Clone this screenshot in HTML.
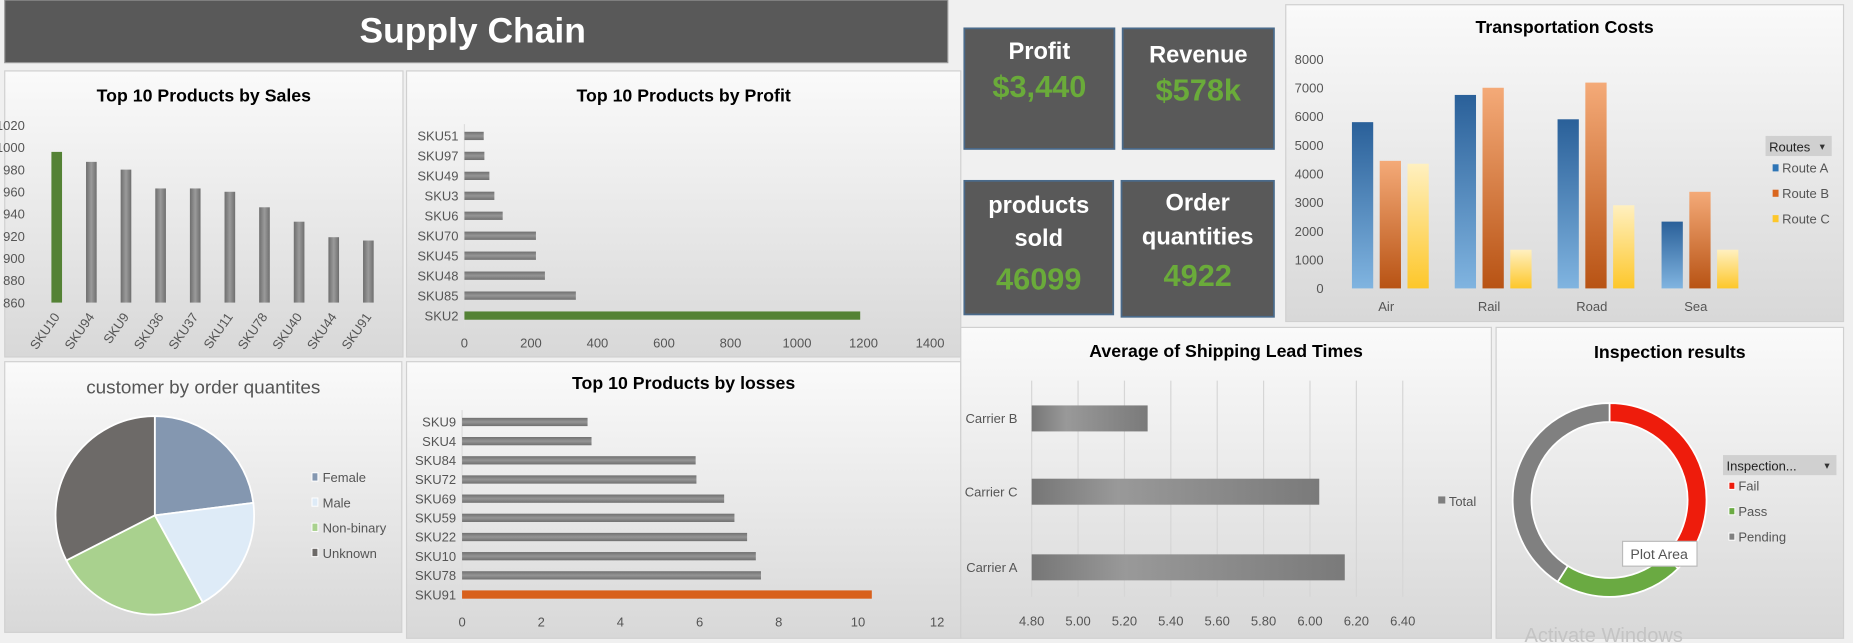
<!DOCTYPE html>
<html><head><meta charset="utf-8"><style>
html,body{margin:0;padding:0;background:#f0f0f0;}
svg{display:block;font-family:"Liberation Sans",sans-serif;}
</style></head><body>
<svg id="s" width="1853" height="643" viewBox="0 0 1568 544" preserveAspectRatio="none" xmlns="http://www.w3.org/2000/svg">
<defs>
<linearGradient id="pg" x1="0" y1="0" x2="0" y2="1"><stop offset="0" stop-color="#fafafa"/><stop offset="1" stop-color="#d8d8d8"/></linearGradient>
<linearGradient id="gv" x1="0" y1="0" x2="1" y2="0"><stop offset="0" stop-color="#6e6e6e"/><stop offset="0.5" stop-color="#9a9a9a"/><stop offset="1" stop-color="#6e6e6e"/></linearGradient>
<linearGradient id="gh" x1="0" y1="0" x2="0" y2="1"><stop offset="0" stop-color="#707070"/><stop offset="0.5" stop-color="#959595"/><stop offset="1" stop-color="#707070"/></linearGradient>
<linearGradient id="gx" x1="0" y1="0" x2="1" y2="0"><stop offset="0" stop-color="#767676"/><stop offset="0.3" stop-color="#999"/><stop offset="1" stop-color="#7a7a7a"/></linearGradient>
<linearGradient id="ga" x1="0" y1="0" x2="0" y2="1"><stop offset="0" stop-color="#2a6099"/><stop offset="1" stop-color="#80b4e0"/></linearGradient>
<linearGradient id="gb" x1="0" y1="0" x2="0" y2="1"><stop offset="0" stop-color="#f4aa78"/><stop offset="1" stop-color="#b85314"/></linearGradient>
<linearGradient id="gc" x1="0" y1="0" x2="0" y2="1"><stop offset="0" stop-color="#fff0c0"/><stop offset="1" stop-color="#fdc72a"/></linearGradient>
</defs>
<rect x="4" y="0" width="798" height="53" fill="#595959" stroke="#999"/>
<text x="400" y="36" text-anchor="middle" font-size="30" font-weight="bold" fill="#fff">Supply Chain</text>
<g id="panels"></g>
<g id="charts"></g>
</svg>
<script>
const salesCats=["SKU10","SKU94","SKU9","SKU36","SKU37","SKU11","SKU78","SKU40","SKU44","SKU91"];
const salesVals=[996,987,980,963,963,960,946,933,919,916];
const salesTicks=[860,880,900,920,940,960,980,1000,1020];
const profitCats=["SKU51","SKU97","SKU49","SKU3","SKU6","SKU70","SKU45","SKU48","SKU85","SKU2"];
const profitVals=[58,60,75,90,115,215,215,242,335,1190];
const profitTicks=[0,200,400,600,800,1000,1200,1400];
const lossCats=["SKU9","SKU4","SKU84","SKU72","SKU69","SKU59","SKU22","SKU10","SKU78","SKU91"];
const lossVals=[3.17,3.27,5.9,5.92,6.62,6.88,7.2,7.42,7.55,10.35];
const lossTicks=[0,2,4,6,8,10,12];
const modes=["Air","Rail","Road","Sea"];
const routeA=[5800,6750,5900,2330];
const routeB=[4450,7000,7180,3370];
const routeC=[4350,1350,2900,1350];
const transTicks=[0,1000,2000,3000,4000,5000,6000,7000,8000];
const carriers=["Carrier B","Carrier C","Carrier A"];
const leadVals=[5.30,6.04,6.15];
const leadTicks=[4.80,5.00,5.20,5.40,5.60,5.80,6.00,6.20,6.40];
const genders=["Female","Male","Non-binary","Unknown"];
const genderVals=[23,19,25.5,32.5];
const inspCats=["Fail","Pass","Pending"];
const inspVals=[37.5,21.5,41];

const NS="http://www.w3.org/2000/svg";
function mk(p,tag,at,txt){const e=document.createElementNS(NS,tag);for(const k in at)e.setAttribute(k,at[k]);if(txt!==undefined)e.textContent=txt;p.appendChild(e);return e;}
const P=document.getElementById('panels'),C=document.getElementById('charts');
function panel(name,x,y,w,h,title,ty,bold){
 const r=mk(P,'rect',{x:x,y:y,width:w,height:h,fill:'url(#pg)',stroke:'#d0d0d0'});
 
 const t=mk(P,'text',{x:x+w/2,y:ty,'text-anchor':'middle','font-size':bold?15:16,'font-weight':bold?'bold':'normal',fill:bold?'#000':'#555'},title);
 
}
function txt(x,y,s,sz,anchor,fill,name,extra){const t=mk(C,'text',Object.assign({x:x,y:y,'font-size':sz,'text-anchor':anchor,fill:fill},extra||{}),s);return t;}

panel('sales',4,60,337,242,'Top 10 Products by Sales',86,true);
panel('profit',344,60,469,242,'Top 10 Products by Profit',86,true);
panel('transport',1088,4,472,268,'Transportation Costs',28,true);
panel('customer',4,306,336,229,'customer by order quantites',333,false);
panel('losses',344,306,469,234,'Top 10 Products by  losses',329,true);
panel('shipping',813,277,449,263,'Average of Shipping Lead Times',302,true);
panel('inspection',1266,277,294,263,'Inspection results',303,true);

// KPI cards
[["profit",816,24,127,102,["Profit"],"$3,440",[50],82],["revenue",950,24,128,102,["Revenue"],"$578k",[53],85],
 ["products-sold",816,153,126,113,["products","sold"],"46099",[180,208],245],["order-quantities",949,153,129,115,["Order","quantities"],"4922",[178,207],242]].forEach(k=>{
 const r=mk(P,'rect',{x:k[1],y:k[2],width:k[3],height:k[4],fill:'#595959',stroke:'#4a6a8a','stroke-width':1.5});
 
 k[5].forEach((l,i)=>txt(k[1]+k[3]/2,k[7][i],l,20,'middle','#fff',k[0]+'-label',{'font-weight':'bold'}));
 txt(k[1]+k[3]/2,k[8],k[6],26,'middle','#6aab3a',k[0]+'-value',{'font-weight':'bold'});
});

// Sales column chart
(function(){const y0=256,y1=106,vmin=860,vmax=1020;const Y=v=>y0-(v-vmin)/(vmax-vmin)*(y0-y1);
 salesTicks.forEach(t=>txt(21,Y(t)+4,t,11,'end','#555','sales-y-tick'));
 const X=i=>48+i*29.3;
 salesCats.forEach((c,i)=>{const r=mk(C,'rect',{x:X(i)-4.5,y:Y(salesVals[i]),width:9,height:y0-Y(salesVals[i]),fill:i==0?'#548235':'url(#gv)'});
  
  txt(X(i)+3,268,c,11,'end','#555','sales-x-label',{transform:'rotate(-55 '+(X(i)+3)+' 268)'});});
})();

// horizontal bar helper
function hbar(cats,vals,ticks,x0,x1,yt,yb,bh,hl,name,lab,tickY,fmt){
 const vmax=ticks[ticks.length-1],vmin=ticks[0];const X=v=>x0+(v-vmin)/(vmax-vmin)*(x1-x0);
 const step=(yb-yt)/(cats.length-1);
 mk(C,'line',{x1:x0,x2:x0,y1:yt-10,y2:yb+10,stroke:'#ddd'});
 cats.forEach((c,i)=>{const y=yt+i*step;
  const r=mk(C,'rect',{x:x0,y:y-bh/2,width:X(vals[i])-x0,height:bh,fill:i==hl?(name=='losses'?'#d8601c':'#548235'):'url(#gh)'});
  
  txt(x0-lab,y+4,c,11,'end','#555',name+'-y-label');});
 ticks.forEach(t=>txt(X(t),tickY,fmt?fmt(t):t,11,'middle','#555',name+'-x-tick'));
}
hbar(profitCats,profitVals,profitTicks,393,787,115,267,7,9,'profit',5,294);
hbar(lossCats,lossVals,lossTicks,391,793,357,503,7,9,'losses',5,530);

// Shipping lead times
(function(){const x0=873,x1=1187,vmin=4.8,vmax=6.4;const X=v=>x0+(v-vmin)/(vmax-vmin)*(x1-x0);
 leadTicks.forEach(t=>{mk(C,'line',{x1:X(t),x2:X(t),y1:322,y2:505,stroke:'#d6d6d6'});txt(X(t),529,t.toFixed(2),11,'middle','#555','shipping-x-tick');});
 const ys=[354,416,480];
 carriers.forEach((c,i)=>{const r=mk(C,'rect',{x:x0,y:ys[i]-11,width:X(leadVals[i])-x0,height:22,fill:'url(#gx)'});
  
  txt(x0-12,ys[i]+4,c,11,'end','#555','shipping-y-label');});
 const s=mk(C,'rect',{x:1217,y:420,width:6,height:6,fill:'#7f7f7f'});
 txt(1226,428,'Total',11,'start','#555','shipping-legend-total');
})();

// Transportation costs
(function(){const y0=244,y1=50,vmax=8000;const Y=v=>y0-v/vmax*(y0-y1);
 transTicks.forEach(t=>txt(1120,Y(t)+4,t,11,'end','#555','transport-y-tick'));
 const cx=[1173,1260,1347,1435];const fills=['url(#ga)','url(#gb)','url(#gc)'];const ser=[routeA,routeB,routeC];
 modes.forEach((m,i)=>{ser.forEach((s,j)=>{const x=cx[i]-29+j*23.5;
   const r=mk(C,'rect',{x:x,y:Y(s[i]),width:18,height:y0-Y(s[i]),fill:fills[j]});
   });
  txt(cx[i],263,m,11,'middle','#555','transport-x-label');});
 const h=mk(C,'rect',{x:1494,y:115,width:56,height:17,fill:'#d0d0d0'});
 txt(1497,128,'Routes',11,'start','#222','routes-filter-label');txt(1542,127,'▾',9,'middle','#333','routes-filter-arrow');
 ['#2e75b6','#d9661e','#fdc72a'].forEach((c,j)=>{const r=mk(C,'rect',{x:1500,y:139+j*21.5,width:5,height:6,fill:c});
  txt(1508,146+j*21.5,'Route '+'ABC'[j],11,'start','#555','route-legend-label');});
})();

// pie / donut
function arcPath(cx,cy,r,ri,a0,a1){const p=(a,R)=>[cx+R*Math.sin(a),cy-R*Math.cos(a)];const lg=(a1-a0)>Math.PI?1:0;
 const [x0,y0]=p(a0,r),[x1,y1]=p(a1,r);
 if(!ri)return `M${cx},${cy}L${x0},${y0}A${r},${r} 0 ${lg} 1 ${x1},${y1}Z`;
 const [x2,y2]=p(a1,ri),[x3,y3]=p(a0,ri);return `M${x0},${y0}A${r},${r} 0 ${lg} 1 ${x1},${y1}L${x2},${y2}A${ri},${ri} 0 ${lg} 0 ${x3},${y3}Z`;}
(function(){const tot=genderVals.reduce((a,b)=>a+b,0);let a=0;const cols=['#8497b0','#deebf7','#a9d18e','#6d6a68'];
 genders.forEach((g,i)=>{const a1=a+genderVals[i]/tot*2*Math.PI;const p=mk(C,'path',{d:arcPath(131,436,84,0,a,a1),fill:cols[i],stroke:'#fff','stroke-width':1.5});
  a=a1;
  const s=mk(C,'rect',{x:264,y:400+i*21.3,width:5,height:7,fill:cols[i],stroke:'#fff','stroke-width':0.8});
  txt(273,408+i*21.3,g,11,'start','#555','pie-legend-label');});
})();
(function(){const tot=inspVals.reduce((a,b)=>a+b,0);let a=0;const cols=['#ee1c0c','#6aaa42','#808080'];
 inspCats.forEach((g,i)=>{const a1=a+inspVals[i]/tot*2*Math.PI;const p=mk(C,'path',{d:arcPath(1362,423,82,66,a,a1),fill:cols[i],stroke:'#fff','stroke-width':1.5});
  a=a1;
  const s=mk(C,'rect',{x:1463,y:408+i*21.5,width:5,height:6,fill:cols[i],stroke:'#fff','stroke-width':0.8});
  txt(1471,415+i*21.5,g,11,'start','#555','donut-legend-label');});
 const h=mk(C,'rect',{x:1458,y:385,width:96,height:17,fill:'#d0d0d0'});
 txt(1461,398,'Inspection...',11,'start','#222','inspection-filter-label');txt(1546,397,'▾',9,'middle','#333','inspection-filter-arrow');
 const t=mk(C,'rect',{x:1373,y:458,width:63,height:21,fill:'#fff',stroke:'#bbb'});
 txt(1404,473,'Plot Area',12,'middle','#555','plot-area-tooltip-text');
 txt(1290,543,'Activate Windows',17,'start','#c4c4c4','activate-windows-watermark');
})();
</script>
</body></html>
